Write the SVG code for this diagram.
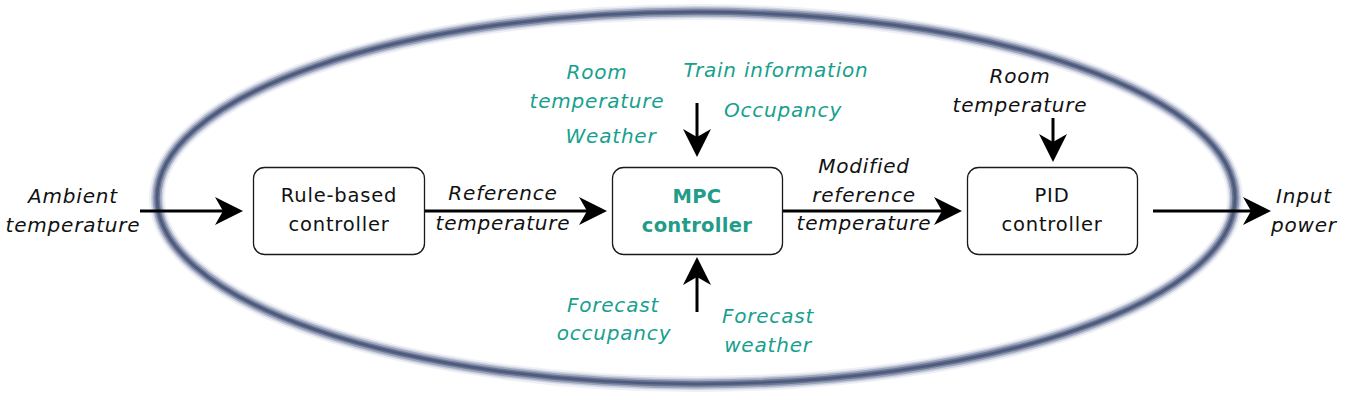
<svg xmlns="http://www.w3.org/2000/svg" width="1362" height="412" viewBox="0 0 1362 412">
<style>
.box{fill:#fff;stroke:#1a1a1a;stroke-width:1.3}
.bt{font-family:"DejaVu Sans",sans-serif;font-size:19.5px;letter-spacing:0.8px;fill:#111;text-anchor:middle}
.mpc{font-family:"DejaVu Sans",sans-serif;font-size:19.5px;font-weight:bold;letter-spacing:0.3px;fill:#219c88;text-anchor:middle}
.lb{font-family:"DejaVu Sans",sans-serif;font-size:20px;font-style:italic;letter-spacing:0.8px;fill:#111;text-anchor:middle}
.tl{font-family:"DejaVu Sans",sans-serif;font-size:20px;font-style:italic;letter-spacing:0.8px;fill:#17a08e;text-anchor:middle}
.ar{stroke:#000;stroke-width:3;fill:none;marker-end:url(#ah)}
.rg{fill:none}
</style>
<defs>
<marker id="ah" markerUnits="userSpaceOnUse" viewBox="0 0 28 28" refX="22" refY="14" markerWidth="28" markerHeight="28" orient="auto">
<path d="M0,0 L28,14 L0,28 L8,14 Z" fill="#000"/>
</marker>
</defs>
<rect width="1362" height="412" fill="#fff"/>
<g id="ring">
<ellipse class="rg" cx="696" cy="198" rx="539" ry="186" stroke="#eef0f5" stroke-width="16"/>
<ellipse class="rg" cx="696" cy="198" rx="539" ry="186" stroke="#cdd2e0" stroke-width="12"/>
<ellipse class="rg" cx="696" cy="198" rx="539" ry="186" stroke="#9ca5bd" stroke-width="9"/>
<ellipse class="rg" cx="696" cy="198" rx="539" ry="186" stroke="#6b7692" stroke-width="5.5"/>
<ellipse class="rg" cx="696" cy="198" rx="539" ry="186" stroke="#4f5b7e" stroke-width="2.5"/>
</g>
<g id="connectors">
<line class="ar" x1="140" y1="211" x2="237" y2="211"/>
<line class="ar" x1="425" y1="211" x2="601" y2="211"/>
<line class="ar" x1="783" y1="211" x2="956" y2="211"/>
<line class="ar" x1="1153" y1="211" x2="1265" y2="211"/>
<line class="ar" x1="697" y1="103" x2="697" y2="151"/>
<line class="ar" x1="697" y1="312" x2="697" y2="263"/>
<line class="ar" x1="1053" y1="118" x2="1053" y2="156"/>
</g>
<g id="rule">
<rect class="box" x="253.5" y="167.5" width="171" height="87" rx="11"/>
<text class="bt" x="339" y="202">Rule-based</text>
<text class="bt" x="339" y="231">controller</text>
</g>
<g id="mpc">
<rect class="box" x="612.5" y="167.5" width="170" height="87" rx="11"/>
<text class="mpc" x="697" y="203">MPC</text>
<text class="mpc" x="697" y="232">controller</text>
</g>
<g id="pid">
<rect class="box" x="967.5" y="167.5" width="170" height="87" rx="11"/>
<text class="bt" x="1052" y="202">PID</text>
<text class="bt" x="1052" y="231">controller</text>
</g>
<g id="labels">
<text class="lb" x="73" y="203">Ambient</text>
<text class="lb" x="73" y="232">temperature</text>
<text class="lb" x="503" y="200">Reference</text>
<text class="lb" x="503" y="230">temperature</text>
<text class="lb" x="864" y="173">Modified</text>
<text class="lb" x="864" y="202">reference</text>
<text class="lb" x="864" y="230">temperature</text>
<text class="lb" x="1020" y="83">Room</text>
<text class="lb" x="1020" y="112">temperature</text>
<text class="lb" x="1304" y="203">Input</text>
<text class="lb" x="1304" y="232">power</text>
<text class="tl" x="597" y="79">Room</text>
<text class="tl" x="597" y="108">temperature</text>
<text class="tl" x="611" y="143">Weather</text>
<text class="tl" x="776" y="77">Train information</text>
<text class="tl" x="783" y="117">Occupancy</text>
<text class="tl" x="613" y="312">Forecast</text>
<text class="tl" x="614" y="340">occupancy</text>
<text class="tl" x="768" y="323">Forecast</text>
<text class="tl" x="768" y="352">weather</text>
</g>
</svg>
